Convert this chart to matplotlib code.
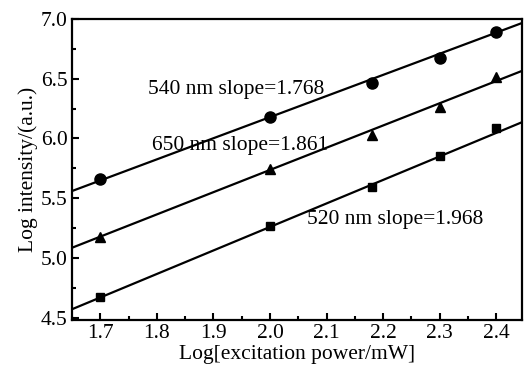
import numpy as np
import matplotlib
matplotlib.use("Agg")
import matplotlib.pyplot as plt
from matplotlib.ticker import MultipleLocator

plt.rcParams['font.family'] = ['Liberation Serif', 'DejaVu Serif']
plt.rcParams['mathtext.fontset'] = 'stix'

# measured points (log power vs log intensity)
x = [1.7, 2.0, 2.18, 2.3, 2.4]
y540 = [5.66, 6.175, 6.46, 6.67, 6.89]
y650 = [5.175, 5.74, 6.03, 6.26, 6.51]
y520 = [4.675, 5.27, 5.59, 5.85, 6.09]

# linear fits: slope, intercept
fit540 = (1.768, 2.642)
fit650 = (1.861, 2.014)
fit520 = (1.968, 1.323)

labels = ['540 nm slope=1.768', '650 nm slope=1.861', '520 nm slope=1.968']

fig = plt.figure(figsize=(5.25, 3.7), dpi=100)
ax = fig.add_axes([0.137, 0.135, 0.858, 0.814])

xl = np.array([1.65, 2.446])
for (m, b) in [fit540, fit650, fit520]:
    ax.plot(xl, m * xl + b, color='black', lw=1.6)

ax.plot(x, y540, 'o', color='black', ms=8, ls='none')
ax.plot(x, y650, '^', color='black', ms=6.5, ls='none')
ax.plot(x, y520, 's', color='black', ms=6, ls='none')

ax.text(1.784, 6.41, labels[0], fontsize=15.5, va='center', ha='left')
ax.text(1.791, 5.94, labels[1], fontsize=15.5, va='center', ha='left')
ax.text(2.065, 5.325, labels[2], fontsize=15.5, va='center', ha='left')

ax.set_xlim(1.65, 2.446)
ax.set_ylim(4.48, 7.0)
ax.xaxis.set_major_locator(MultipleLocator(0.1))
ax.xaxis.set_minor_locator(MultipleLocator(0.05))
ax.yaxis.set_major_locator(MultipleLocator(0.5))
ax.yaxis.set_minor_locator(MultipleLocator(0.25))
ax.tick_params(which='both', direction='in', labelsize=15.5, width=1.5)
ax.tick_params(which='major', length=5, pad=3)
ax.tick_params(which='minor', length=3)
for s in ax.spines.values():
    s.set_linewidth(1.6)

ax.set_xlabel('Log[excitation power/mW]', fontsize=15.5, labelpad=1)
ax.set_ylabel('Log intensity/(a.u.)', fontsize=15.5, labelpad=2)

fig.savefig('out.png', dpi=100)
